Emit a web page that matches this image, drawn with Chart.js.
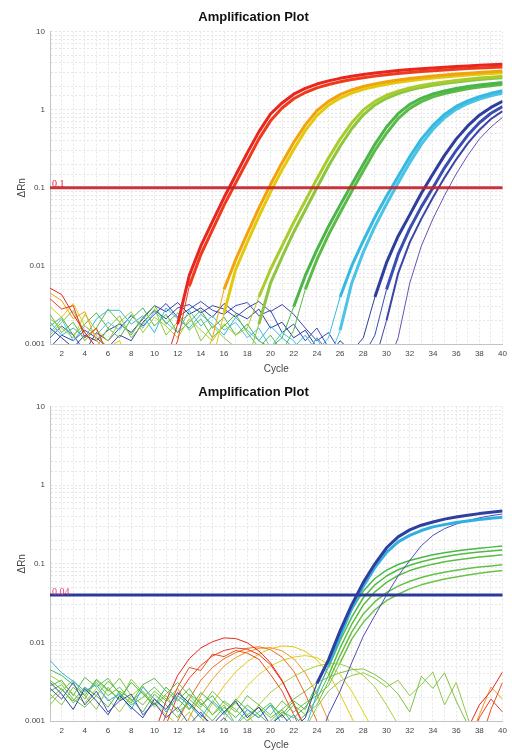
<!DOCTYPE html>
<html>
<head>
<meta charset="utf-8">
<script src="https://cdn.jsdelivr.net/npm/chart.js@4.4.1/dist/chart.umd.min.js"></script>
<style>
  body { margin: 0; background: #fff; }
  canvas { display: block; }
</style>
</head>
<body>
<canvas id="topPlot" width="512" height="375"></canvas>
<canvas id="bottomPlot" width="512" height="378"></canvas>
<script>
// cycles and axis ticks
var cycles = [1,2,3,4,5,6,7,8,9,10,11,12,13,14,15,16,17,18,19,20,21,22,23,24,25,26,27,28,29,30,31,32,33,34,35,36,37,38,39,40];
var yTickValues = [0.001, 0.01, 0.1, 1, 10];
var yTickLabels = ['0.001', '0.01', '0.1', '1', '10'];
var thresholdTop = 0.1;
var thresholdBottom = 0.04;

// ---- top plot: dilution series ----
var topRedA = [0.0052,0.0043,0.0024,0.0014,0.0009,0.0006,0.0005,0.0005,0.0005,0.0005,
  0.0006,0.0018,0.0075,0.018,0.037,0.075,0.145,0.28,0.52,0.88,
  1.22,1.58,1.88,2.13,2.34,2.52,2.68,2.82,2.95,3.06,
  3.17,3.26,3.35,3.43,3.5,3.57,3.64,3.7,3.76,3.82];
var topRedB = [0.0038,0.0028,0.0031,0.0012,0.0016,0.0007,0.0005,0.0005,0.0005,0.0005,
  0.0005,0.0011,0.0055,0.014,0.029,0.06,0.115,0.22,0.42,0.72,
  1.05,1.38,1.66,1.9,2.1,2.28,2.43,2.57,2.69,2.8,
  2.9,2.99,3.08,3.16,3.23,3.3,3.36,3.42,3.48,3.53];
var topOrange = [0.0045,0.0036,0.0021,0.0026,0.0011,0.0008,0.0005,0.0005,0.0005,0.0005,
  0.0005,0.0005,0.0005,0.0005,0.0012,0.005,0.012,0.026,0.055,0.11,
  0.21,0.38,0.64,0.97,1.28,1.56,1.79,1.98,2.14,2.28,
  2.4,2.51,2.61,2.7,2.78,2.86,2.93,3.0,3.06,3.12];
var topYellow = [0.003,0.0022,0.0033,0.0017,0.0013,0.0009,0.0011,0.0005,0.0005,0.0005,
  0.0005,0.0005,0.0005,0.0005,0.0006,0.0025,0.009,0.02,0.043,0.088,
  0.17,0.31,0.54,0.84,1.14,1.41,1.63,1.82,1.98,2.12,
  2.24,2.35,2.45,2.54,2.63,2.71,2.78,2.85,2.91,2.97];
var topLimeA = [0.0021,0.0016,0.0012,0.0024,0.0015,0.0011,0.0019,0.0026,0.0014,0.0022,
  0.0017,0.0012,0.0021,0.0015,0.0011,0.0018,0.0013,0.0016,0.004,0.009,
  0.018,0.036,0.068,0.13,0.24,0.42,0.68,0.99,1.28,1.53,
  1.73,1.9,2.04,2.16,2.27,2.37,2.46,2.54,2.61,2.68];
var topLimeB = [0.0013,0.0019,0.0027,0.0014,0.0009,0.0016,0.0023,0.0012,0.0018,0.0028,
  0.0013,0.0019,0.0024,0.0011,0.0017,0.0012,0.0009,0.0006,0.0018,0.006,
  0.013,0.027,0.052,0.1,0.19,0.34,0.57,0.86,1.15,1.4,
  1.61,1.78,1.93,2.05,2.16,2.26,2.35,2.43,2.5,2.57];
var topGreenA = [0.0017,0.0022,0.0013,0.0018,0.0025,0.0016,0.0012,0.0021,0.0029,0.0017,
  0.0024,0.0014,0.0019,0.0027,0.0016,0.0022,0.0013,0.0018,0.0011,0.0009,
  0.0012,0.003,0.0075,0.016,0.032,0.06,0.11,0.2,0.36,0.6,
  0.89,1.17,1.4,1.59,1.74,1.87,1.98,2.07,2.15,2.23];
var topGreenB = [0.0024,0.0014,0.0019,0.0011,0.0016,0.0028,0.0019,0.0013,0.0022,0.0031,
  0.0018,0.0025,0.0015,0.0021,0.0012,0.0017,0.0024,0.0014,0.0009,0.0013,
  0.0008,0.0015,0.005,0.012,0.025,0.048,0.09,0.165,0.3,0.5,
  0.77,1.04,1.27,1.46,1.61,1.74,1.85,1.95,2.03,2.11];
var topCyanA = [0.0019,0.0013,0.0016,0.0012,0.0021,0.0027,0.0027,0.0018,0.0023,0.0014,
  0.0029,0.0021,0.0016,0.0024,0.0018,0.0013,0.0022,0.0015,0.0011,0.0017,
  0.0012,0.0009,0.0013,0.0008,0.0012,0.004,0.01,0.021,0.042,0.078,
  0.14,0.25,0.42,0.63,0.87,1.1,1.3,1.47,1.62,1.75];
var topCyanB = [0.0014,0.0021,0.0011,0.0017,0.0013,0.0019,0.0015,0.0024,0.0016,0.0026,
  0.0019,0.0014,0.0027,0.0017,0.0023,0.0015,0.0019,0.0012,0.0016,0.0009,
  0.0014,0.0011,0.0007,0.0012,0.0006,0.0015,0.006,0.015,0.032,0.062,
  0.115,0.21,0.36,0.56,0.79,1.01,1.2,1.37,1.51,1.63];
var topBlueA = [0.0016,0.0012,0.0009,0.0013,0.0011,0.0015,0.0018,0.0014,0.0021,0.0031,
  0.0026,0.0034,0.0024,0.0029,0.0022,0.0033,0.0025,0.0021,0.0028,0.0016,
  0.0019,0.0012,0.0015,0.0009,0.0007,0.0011,0.0008,0.0012,0.004,0.011,
  0.024,0.045,0.085,0.15,0.26,0.42,0.62,0.85,1.07,1.28];
var topBlueB = [0.0012,0.0017,0.0013,0.0008,0.0014,0.0011,0.0016,0.0023,0.0017,0.0024,
  0.0033,0.0022,0.0028,0.0035,0.0027,0.0024,0.0031,0.0034,0.0023,0.0027,
  0.0014,0.0018,0.0011,0.0016,0.0009,0.0006,0.0009,0.0007,0.0013,0.005,
  0.014,0.03,0.057,0.1,0.18,0.3,0.47,0.68,0.9,1.1];
var topBlueC = [0.0009,0.0013,0.0011,0.0015,0.0012,0.0009,0.0013,0.0011,0.0019,0.0027,
  0.0021,0.0029,0.0032,0.0025,0.0031,0.0028,0.0022,0.0029,0.0035,0.0026,
  0.0032,0.0024,0.0016,0.0011,0.0014,0.0008,0.0005,0.0008,0.0006,0.002,
  0.008,0.02,0.04,0.075,0.135,0.23,0.37,0.55,0.76,0.96];
var topViolet = [0.0005,0.0005,0.0005,0.0005,0.0005,0.0005,0.0005,0.0005,0.0005,0.0005,
  0.0005,0.0005,0.0005,0.0005,0.0005,0.0005,0.0005,0.0005,0.0005,0.0005,
  0.0006,0.0009,0.0007,0.0012,0.0008,0.0005,0.0005,0.0005,0.0005,0.0005,
  0.0012,0.006,0.018,0.04,0.08,0.15,0.26,0.42,0.6,0.8];

// ---- bottom plot ----
var botBlue = [0.0031,0.0022,0.0014,0.0026,0.0018,0.0012,0.0021,0.0015,0.0011,0.0019,
  0.0014,0.0023,0.0017,0.0012,0.0009,0.0013,0.0018,0.0011,0.0015,0.0009,
  0.0012,0.0008,0.0011,0.003,0.006,0.014,0.03,0.058,0.1,0.16,
  0.22,0.27,0.31,0.34,0.37,0.395,0.415,0.435,0.452,0.47];
var botCyan = [0.0059,0.0041,0.0032,0.0024,0.0029,0.0018,0.0022,0.0014,0.0027,0.0019,
  0.0013,0.0021,0.0016,0.0011,0.0018,0.0013,0.0009,0.0014,0.0011,0.0016,
  0.0009,0.0012,0.0008,0.0022,0.0052,0.012,0.027,0.052,0.09,0.14,
  0.19,0.23,0.265,0.295,0.315,0.335,0.35,0.365,0.38,0.39];
var botViolet = [0.0026,0.0019,0.0031,0.0016,0.0024,0.0013,0.0018,0.0022,0.0012,0.0017,
  0.0011,0.0015,0.0009,0.0013,0.0008,0.0011,0.0007,0.0005,0.0005,0.0005,
  0.0005,0.0005,0.0005,0.0005,0.0012,0.0024,0.0055,0.012,0.022,0.04,
  0.07,0.11,0.17,0.23,0.28,0.32,0.355,0.385,0.41,0.43];
var botGreenA = [0.0045,0.0038,0.0029,0.0021,0.0034,0.0025,0.0019,0.0031,0.0022,0.0016,
  0.0027,0.0019,0.0014,0.0023,0.0017,0.0012,0.0019,0.0014,0.0011,0.0016,
  0.0012,0.0018,0.0014,0.003,0.006,0.013,0.026,0.045,0.065,0.083,
  0.098,0.11,0.12,0.13,0.138,0.145,0.152,0.158,0.163,0.168];
var botGreenB = [0.0028,0.0033,0.0021,0.0036,0.0027,0.0035,0.0022,0.0017,0.0029,0.0035,
  0.0024,0.0018,0.0026,0.0016,0.0021,0.0013,0.0017,0.0012,0.0015,0.0011,
  0.0014,0.0009,0.0012,0.0019,0.0038,0.0085,0.017,0.03,0.044,0.058,
  0.071,0.082,0.091,0.099,0.106,0.112,0.117,0.122,0.126,0.13];
var botGreenC = [0.0019,0.0026,0.0017,0.0023,0.0031,0.0021,0.0027,0.0018,0.0024,0.0016,
  0.0022,0.0031,0.0021,0.0015,0.0024,0.0017,0.0013,0.0021,0.0016,0.0012,
  0.0018,0.0013,0.0017,0.0021,0.0028,0.0055,0.011,0.018,0.026,0.034,
  0.041,0.048,0.054,0.059,0.064,0.068,0.072,0.076,0.079,0.082];
var botGreenD = [0.0033,0.0025,0.0018,0.0027,0.0021,0.0015,0.0024,0.0019,0.0013,0.0022,
  0.0016,0.0011,0.0019,0.0014,0.001,0.0015,0.0011,0.0016,0.0012,0.0009,
  0.0013,0.0011,0.0015,0.0024,0.0048,0.0105,0.021,0.037,0.054,0.07,
  0.084,0.096,0.106,0.115,0.123,0.13,0.136,0.141,0.146,0.15];
var botGreenE = [0.0024,0.0029,0.0019,0.0015,0.0021,0.0032,0.0023,0.0016,0.002,0.0027,
  0.0019,0.0014,0.0022,0.0017,0.0012,0.0018,0.0014,0.001,0.0013,0.0017,
  0.0011,0.0016,0.0012,0.0016,0.0032,0.0068,0.0135,0.023,0.033,0.043,
  0.052,0.06,0.067,0.073,0.078,0.083,0.087,0.091,0.094,0.097];
var botRedA = [0.0005,0.0005,0.0005,0.0005,0.0005,0.0005,0.0005,0.0005,0.0005,0.0007,
  0.0018,0.0038,0.0062,0.0085,0.0102,0.0114,0.0112,0.0099,0.0078,0.0055,
  0.0033,0.0016,0.0008,0.0005,0.0005,0.0005,0.0005,0.0005,0.0005,0.0005,
  0.0005,0.0005,0.0005,0.0005,0.0005,0.0005,0.0008,0.0016,0.0024,0.0042];
var botRedB = [0.0005,0.0005,0.0005,0.0005,0.0005,0.0005,0.0005,0.0005,0.0005,0.0005,
  0.0009,0.0021,0.0035,0.0051,0.0067,0.0079,0.0085,0.0082,0.007,0.0052,
  0.0032,0.0017,0.0008,0.0005,0.0005,0.0005,0.0005,0.0005,0.0005,0.0005,
  0.0005,0.0005,0.0005,0.0005,0.0005,0.0005,0.0005,0.0011,0.0019,0.0013];
var botRedC = [0.0005,0.0005,0.0005,0.0005,0.0005,0.0005,0.0005,0.0005,0.0005,0.0005,
  0.0012,0.0027,0.0048,0.0044,0.0071,0.0066,0.0079,0.0073,0.0061,0.0039,
  0.0024,0.0012,0.0006,0.0005,0.0005,0.0005,0.0005,0.0005,0.0005,0.0005,
  0.0005,0.0005,0.0005,0.0005,0.0005,0.0005,0.0009,0.0005,0.0014,0.0031];
var botRedD = [0.0005,0.0005,0.0005,0.0005,0.0005,0.0005,0.0005,0.0005,0.0005,0.0005,
  0.0005,0.001,0.0019,0.0033,0.0048,0.0062,0.0074,0.0084,0.0088,0.0081,
  0.0065,0.0043,0.0022,0.001,0.0005,0.0005,0.0005,0.0005,0.0005,0.0005,
  0.0005,0.0005,0.0005,0.0005,0.0005,0.0005,0.0005,0.0005,0.0005,0.0005];
var botOrange = [0.0005,0.0005,0.0005,0.0005,0.0005,0.0005,0.0005,0.0005,0.0005,0.0005,
  0.0005,0.0005,0.0011,0.0021,0.0034,0.005,0.0064,0.0076,0.0084,0.0086,
  0.0078,0.0062,0.0041,0.0022,0.001,0.0005,0.0005,0.0005,0.0005,0.0005,
  0.0005,0.0005,0.0005,0.0005,0.0005,0.0005,0.0005,0.0012,0.0027,0.0019];
var botYellowA = [0.0005,0.0005,0.0005,0.0005,0.0005,0.0005,0.0005,0.0005,0.0005,0.0005,
  0.0005,0.0005,0.0005,0.0009,0.0017,0.0028,0.0042,0.0057,0.0071,0.0083,
  0.009,0.0088,0.0077,0.006,0.004,0.0022,0.0011,0.0006,0.0005,0.0005,
  0.0005,0.0005,0.0005,0.0005,0.0005,0.0005,0.0005,0.0005,0.0005,0.0005];
var botYellowB = [0.0005,0.0005,0.0005,0.0005,0.0005,0.0005,0.0005,0.0005,0.0005,0.0005,
  0.0005,0.0005,0.0005,0.0005,0.0005,0.001,0.0018,0.0028,0.0039,0.005,
  0.0059,0.0065,0.0068,0.0064,0.0053,0.0039,0.0024,0.0013,0.0007,0.0005,
  0.0005,0.0005,0.0005,0.0005,0.0005,0.0005,0.0005,0.0005,0.0005,0.0005];
var botLime = [0.0038,0.0031,0.0022,0.0017,0.0026,0.0019,0.0013,0.0021,0.0028,0.0017,
  0.0012,0.0009,0.0013,0.0008,0.0006,0.0005,0.0007,0.001,0.0016,0.0023,
  0.003,0.0037,0.0044,0.005,0.0054,0.0053,0.0047,0.0038,0.0027,0.0016,
  0.0009,0.0005,0.0005,0.0005,0.0005,0.0005,0.0005,0.0005,0.0005,0.0005];
var botGreenHump = [0.0022,0.0016,0.0027,0.0019,0.0033,0.0024,0.0035,0.0021,0.0016,0.0024,
  0.0018,0.0026,0.0014,0.0019,0.0012,0.0016,0.0009,0.0012,0.0008,0.001,
  0.0014,0.0019,0.0024,0.0031,0.0036,0.0041,0.0045,0.0046,0.0039,0.0031,
  0.0022,0.0013,0.0037,0.0026,0.0041,0.0018,0.0009,0.0005,0.0005,0.0005];
var botLightGreen = [0.0016,0.0024,0.0033,0.0021,0.0014,0.0027,0.0018,0.0034,0.0023,0.0015,
  0.0021,0.0013,0.0017,0.0011,0.0008,0.0005,0.0005,0.0005,0.0005,0.0005,
  0.0005,0.0005,0.0008,0.0015,0.0024,0.0032,0.0038,0.0041,0.0035,0.0027,
  0.0033,0.0021,0.0029,0.0042,0.0016,0.0031,0.0011,0.0005,0.0005,0.0005];

function curve(values, color, width) {
  return {
    data: values.map(function (v, i) { return { x: cycles[i], y: v }; }),
    borderColor: color,
    borderWidth: width,
    pointRadius: 0,
    fill: false,
    tension: 0,
    borderJoinStyle: 'round',
    segment: {
      // baseline noise is drawn thin, the amplified part as a band
      borderWidth: function (c) {
        return (c.p0.parsed.y < 0.006 && c.p1.parsed.y < 0.006) ? 1 : width;
      }
    }
  };
}

var thresholdPlugin = {
  id: 'threshold',
  afterDatasetsDraw: function (chart, args, opts) {
    var ctx = chart.ctx, a = chart.chartArea;
    var py = chart.scales.y.getPixelForValue(opts.value);
    ctx.save();
    ctx.strokeStyle = opts.color;
    ctx.lineWidth = 3;
    ctx.beginPath();
    ctx.moveTo(a.left, py);
    ctx.lineTo(a.right, py);
    ctx.stroke();
    ctx.fillStyle = opts.labelColor;
    ctx.font = '10px "Liberation Serif"';
    ctx.textBaseline = 'bottom';
    ctx.fillText(opts.label, a.left + 2, py + 2);
    ctx.restore();
  }
};

function yLabel(value) {
  for (var i = 0; i < yTickValues.length; i++) {
    if (Math.abs(value / yTickValues[i] - 1) < 1e-6) return yTickLabels[i];
  }
  return '';
}

function makeChart(id, datasets, threshold, lineColor, labelColor, axisH, titlePad) {
  var tickFont = { family: 'Liberation Sans', size: 8 };
  return new Chart(document.getElementById(id), {
    type: 'line',
    data: { datasets: datasets },
    options: {
      responsive: false,
      animation: false,
      layout: { padding: { left: 0, right: 5, top: 0, bottom: 0 } },
      plugins: {
        legend: { display: false },
        tooltip: { enabled: false },
        title: {
          display: true,
          text: 'Amplification Plot',
          color: '#111',
          font: { family: 'Liberation Sans', size: 13, weight: 'bold' },
          padding: { top: 10, bottom: 6 }
        },
        threshold: { value: threshold, color: lineColor, labelColor: labelColor, label: String(threshold) }
      },
      scales: {
        x: {
          type: 'linear', min: 1, max: 40,
          ticks: {
            stepSize: 1, autoSkip: false, maxRotation: 0, padding: 5,
            font: tickFont, color: '#444',
            callback: function (v) { return v % 2 === 0 ? String(v) : ''; }
          },
          grid: { color: '#e6e6e6', drawTicks: false },
          border: { color: '#c4c4c4', dash: [2, 2] },
          title: {
            display: true, text: 'Cycle', color: '#444',
            font: { family: 'Liberation Sans', size: 10 },
            padding: { top: 0, bottom: titlePad }
          },
          afterFit: function (s) { s.height = axisH; }
        },
        y: {
          type: 'logarithmic', min: 0.001, max: 10,
          ticks: { autoSkip: false, padding: 5, font: tickFont, color: '#444', callback: yLabel },
          grid: { color: '#e6e6e6', drawTicks: false },
          border: { color: '#c4c4c4', dash: [2, 2] },
          title: {
            display: true, text: 'ΔRn', color: '#444',
            font: { family: 'Liberation Sans', size: 10 },
            padding: { top: 16, bottom: 0 }
          },
          afterFit: function (s) { s.width = 50; }
        }
      }
    },
    plugins: [thresholdPlugin]
  });
}

makeChart('topPlot', [
  curve(topRedA, '#e8261e', 3),
  curve(topRedB, '#ef3a1c', 3),
  curve(topOrange, '#f2a30c', 3),
  curve(topYellow, '#e3c90c', 3),
  curve(topLimeA, '#a9cc2c', 3),
  curve(topLimeB, '#8cc63f', 3),
  curve(topGreenA, '#4bb54a', 3),
  curve(topGreenB, '#5cbb46', 3),
  curve(topCyanA, '#35b9e0', 3),
  curve(topCyanB, '#4ac3e6', 3),
  curve(topBlueA, '#2d3e9c', 3),
  curve(topBlueB, '#3a4db3', 3),
  curve(topBlueC, '#3c44a6', 2),
  curve(topViolet, '#6a52b0', 1)
], thresholdTop, 'rgba(196,30,40,0.9)', '#e0203a', 31, 0);

makeChart('bottomPlot', [
  curve(botBlue, '#2e3f9e', 3),
  curve(botCyan, '#31afe3', 3),
  curve(botViolet, '#4d4fb8', 1),
  curve(botGreenA, '#4cb847', 1.5),
  curve(botGreenD, '#52ba46', 1.5),
  curve(botGreenB, '#5cbd45', 1.5),
  curve(botGreenE, '#66c048', 1.5),
  curve(botGreenC, '#6cc24a', 1.5),
  curve(botRedA, '#e8261e', 1),
  curve(botRedB, '#ee3b1f', 1),
  curve(botRedC, '#e4531c', 1),
  curve(botRedD, '#f06a1a', 1),
  curve(botOrange, '#f39a1b', 1),
  curve(botYellowA, '#e5c414', 1),
  curve(botYellowB, '#d8d41a', 1),
  curve(botLime, '#a6cf38', 1),
  curve(botGreenHump, '#7dc243', 1),
  curve(botLightGreen, '#8fc84a', 1)
], thresholdBottom, '#2b3a9a', '#e8406a', 32, 2);
</script>
</body>
</html>
